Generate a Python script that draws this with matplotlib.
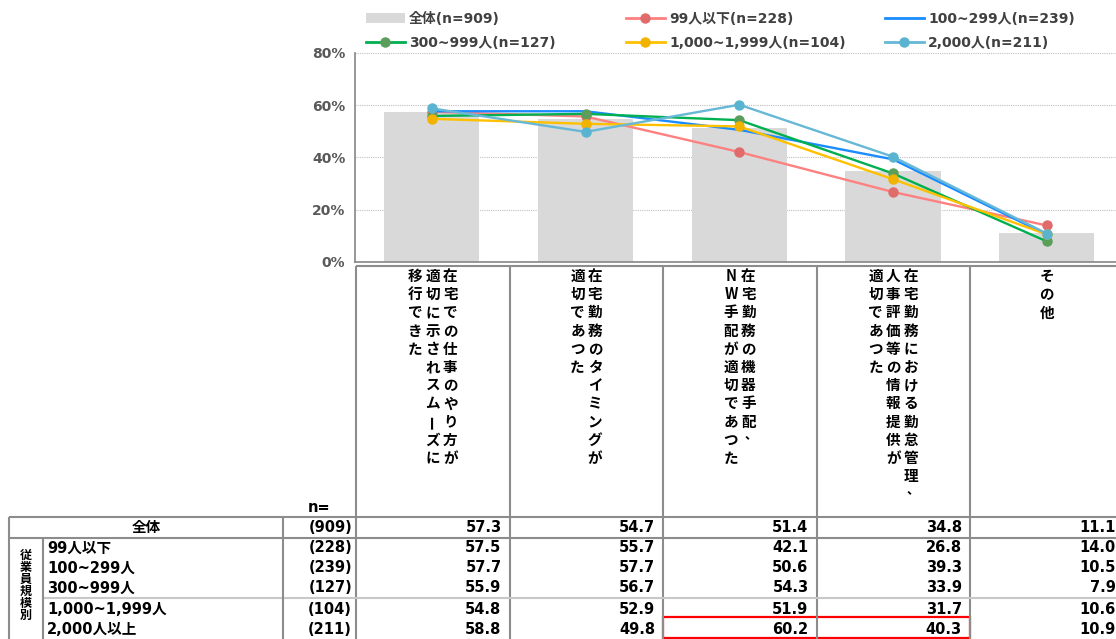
import matplotlib
matplotlib.use("Agg")
import matplotlib.pyplot as plt
from matplotlib.lines import Line2D
from matplotlib.patches import Patch, Rectangle

plt.rcParams["font.family"] = ["DejaVu Sans", "Noto Sans CJK JP"]
plt.rcParams["font.weight"] = "bold"

# --- data -----------------------------------------------------------------
# category labels, split into vertical columns (right column first)
category_columns = [
    ["在宅での仕事のやり方が", "適切に示されスムーズに", "移行できた"],
    ["在宅勤務のタイミングが", "適切であつた"],
    ["在宅勤務の機器手配、", "NW手配が適切であつた"],
    ["在宅勤務における勤怠管理、", "人事評価等の情報提供が", "適切であつた"],
    ["その他"],
]
overall_label = "全体"
overall_n = 909
overall_values = [57.3, 54.7, 51.4, 34.8, 11.1]

group_title = "従業員規模別"
size_rows = ["99人以下", "100~299人", "300~999人", "1,000~1,999人", "2,000人以上"]
size_legend = ["99人以下", "100~299人", "300~999人", "1,000~1,999人", "2,000人"]
size_n = [228, 239, 127, 104, 211]
size_values = [
    [57.5, 55.7, 42.1, 26.8, 14.0],
    [57.7, 57.7, 50.6, 39.3, 10.5],
    [55.9, 56.7, 54.3, 33.9, 7.9],
    [54.8, 52.9, 51.9, 31.7, 10.6],
    [58.8, 49.8, 60.2, 40.3, 10.9],
]
# (line colour, marker colour or None)
size_styles = [
    ("#ff8080", "#e06b6b"),
    ("#1a8cff", None),
    ("#00b050", "#5a9e5a"),
    ("#ffc000", "#f2b200"),
    ("#66b8d6", "#5ab4d0"),
]
yticks = [0, 20, 40, 60, 80]

# --- layout (pixels) --------------------------------------------------------
W, H = 1116, 639
COL0, COLW = 356, 153.5
col_edges = [COL0 + i * COLW for i in range(len(overall_values) + 1)]
GRID = "#8c8c8c"

fig = plt.figure(figsize=(W / 100, H / 100), dpi=100)

ax = fig.add_axes([355 / W, 1 - 262 / H, (col_edges[-1] - 355) / W, (262 - 53) / H])
x = list(range(len(overall_values)))
ax.bar(x, overall_values, width=0.62, color="#d9d9d9", zorder=1)
for vals, (lc, mc) in zip(size_values, size_styles):
    if mc:
        ax.plot(x, vals, color=lc, lw=1.7, marker="o", ms=6.5,
                mfc=mc, mec=mc, zorder=3)
    else:
        ax.plot(x, vals, color=lc, lw=1.7, zorder=3)
ax.set_xlim(-0.5, len(x) - 0.5)
ax.set_ylim(0, 80)
ax.set_yticks(yticks, [f"{t}%" for t in yticks])
ax.set_xticks([])
ax.tick_params(axis="y", length=0, pad=7, labelsize=10, labelcolor="#595959")
ax.yaxis.grid(True, color="#bfbfbf", lw=0.8, ls=(0, (1, 1)))
ax.set_axisbelow(True)
for s in ("top", "right"):
    ax.spines[s].set_visible(False)
for s in ("left", "bottom"):
    ax.spines[s].set_color("#868686")
    ax.spines[s].set_linewidth(1.2)

# legend: three columns of two entries
handles = [Patch(facecolor="#d9d9d9", edgecolor="none")]
for lc, mc in size_styles:
    if mc:
        handles.append(Line2D([], [], color=lc, lw=2, marker="o", ms=6.5, mfc=mc, mec=mc))
    else:
        handles.append(Line2D([], [], color=lc, lw=2))
labels = [f"{overall_label}(n={overall_n})"] + [f"{g}(n={n})" for g, n in zip(size_legend, size_n)]
for i, lx in enumerate([366, 626, 885]):
    fig.legend([handles[i], handles[i + 3]], [labels[i], labels[i + 3]],
               loc="upper left", bbox_to_anchor=(lx / W, 1 - 12 / H),
               frameon=False, borderpad=0, borderaxespad=0, handlelength=2.8,
               handletextpad=0.3, labelspacing=0.7,
               prop={"size": 10, "weight": "bold"}, labelcolor="#404040")

# --- category box and table, drawn in pixel coordinates ------------------
ov = fig.add_axes([0, 0, 1, 1])
ov.set_xlim(0, W)
ov.set_ylim(H, 0)
ov.set_axis_off()
ov.patch.set_alpha(0)

lw = 1.5
ov.hlines(266, COL0, W, color=GRID, lw=lw)
for ex in col_edges[:-1]:
    ov.vlines(ex, 266, H, color=GRID, lw=lw)

jp = ["Noto Sans CJK JP", "DejaVu Sans"]
for i, cols in enumerate(category_columns):
    cx = COL0 + (i + 0.5) * COLW
    n = len(cols)
    for j, col in enumerate(cols):
        tx = cx + ((n - 1) / 2 - j) * 17.5
        for k, ch in enumerate(col):
            ty = 276 + k * 18.2
            rot, dx, dy, fsz = 0, 0, 0, 10.5
            if ch == "ー":
                rot = 90
            elif ch == "、":
                dx, dy, fsz = 2, -5, 9
            ov.text(tx + dx, ty + dy, ch, ha="center", va="center", rotation=rot,
                    fontsize=fsz, fontweight="bold", family=jp, color="black")

# table grid
ov.hlines(517, 9, W, color=GRID, lw=lw)
ov.hlines(538, 9, W, color=GRID, lw=lw)
ov.hlines(598, 43, W, color="#c8c8c8", lw=lw)
ov.vlines(9, 517, H, color=GRID, lw=lw)
ov.vlines(43, 538, H, color=GRID, lw=lw)
ov.vlines(283, 517, H, color=GRID, lw=lw)

fs = 10.5
ov.text(319, 507, "n=", ha="center", va="center", fontsize=fs)
row_y = [527.5, 548, 568, 588, 609, 629]
ov.text(146, row_y[0], overall_label, ha="center", va="center", fontsize=fs)
ov.text(352, row_y[0], f"({overall_n})", ha="right", va="center", fontsize=fs)
for c, v in enumerate(overall_values):
    ov.text(col_edges[c + 1] - 8, row_y[0], f"{v:.1f}", ha="right", va="center", fontsize=fs)

for r, (name, n, vals) in enumerate(zip(size_rows, size_n, size_values)):
    y = row_y[r + 1]
    ov.text(47, y, name, ha="left", va="center", fontsize=fs)
    ov.text(352, y, f"({n})", ha="right", va="center", fontsize=fs)
    for c, v in enumerate(vals):
        ov.text(col_edges[c + 1] - 8, y, f"{v:.1f}", ha="right", va="center", fontsize=fs)

for k, ch in enumerate(group_title):
    ov.text(26, 555 + k * 12, ch, ha="center", va="center", fontsize=8.7, family=jp)

# highlighted cells
ov.add_patch(Rectangle((col_edges[2], 617), col_edges[4] - col_edges[2], 21,
                       fill=False, edgecolor="#ff0000", lw=1.6))

fig.savefig("out.png", dpi=100)
